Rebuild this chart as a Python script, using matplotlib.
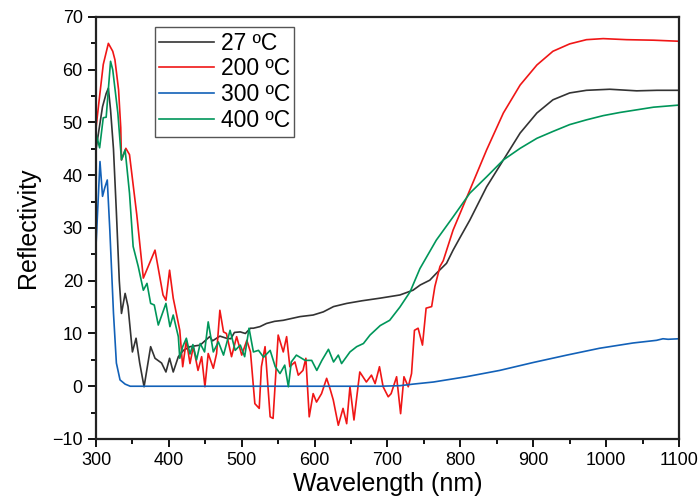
import matplotlib

matplotlib.use("Agg")

import matplotlib.pyplot as plt
from matplotlib.ticker import MultipleLocator

plt.rcParams["font.family"] = ["Liberation Sans", "DejaVu Sans"]

# 27 C
wl_27 = [300, 304, 309, 314, 317, 320, 324, 328, 332, 335, 340, 344, 350, 355, 360, 366,
         375, 381, 390, 396, 401, 406, 413, 420, 429, 443, 456, 460, 470, 479, 485, 490,
         498, 505, 512, 516, 525, 534, 545, 557, 580, 598, 612, 626, 644, 665, 690, 717,
         735, 745, 758, 767, 781, 790, 800, 813, 836, 859, 882, 905, 927, 950, 973, 1005,
         1042, 1070, 1100]
r_27 = [44.8, 48.5, 53.0, 55.5, 56.5, 52.4, 45.0, 33.0, 20.0, 13.8, 17.6, 15.1, 6.5, 9.1, 4.4, -0.1,
        7.5, 5.3, 4.4, 2.7, 5.3, 2.7, 5.6, 6.8, 7.5, 7.8, 9.4, 8.6, 9.5, 9.1, 9.0, 10.2,
        10.3, 10.0, 11.0, 11.0, 11.3, 11.9, 12.3, 12.5, 13.2, 13.5, 14.1, 15.1, 15.7, 16.2, 16.7, 17.3,
        18.2, 19.2, 20.1, 21.4, 23.3, 25.8, 28.3, 31.5, 37.8, 42.9, 48.0, 51.8, 54.3, 55.6, 56.1, 56.3,
        56.0, 56.1, 56.1]

# 200 C
wl_200 = [300, 305, 310, 317, 323, 326, 331, 334, 335, 341, 346, 356, 365, 381, 392, 396,
          401, 406, 415, 419, 424, 429, 433.5, 440, 445, 449.5, 454, 461, 465.5, 470, 475, 479,
          486, 493, 500, 507, 512, 518, 524, 527, 532, 539, 543, 550, 557, 561.6, 566, 573,
          577.6, 584, 588, 592.6, 598, 602.6, 609.5, 616.5, 621, 625.6, 632.5, 639, 644, 648.5, 654, 662,
          671, 678, 683, 689, 694, 701, 705, 712.5, 718, 722.6, 728.5, 733, 737, 742, 748, 753,
          760.6, 765, 772, 776.5, 790, 813, 836, 859, 882, 905, 927, 950, 973, 996, 1028, 1065, 1100]
r_200 = [48.9, 55.0, 61.0, 65.0, 63.5, 61.9, 56.2, 49.0, 42.9, 45.1, 43.9, 32.5, 20.5, 25.8, 17.3, 16.3,
         22.0, 16.7, 10.6, 3.7, 8.7, 4.3, 7.5, 3.0, 5.6, -0.1, 6.2, 3.4, 6.2, 14.4, 10.3, 10.0,
         5.6, 9.4, 5.9, 8.7, 6.5, -3.3, -4.2, 3.7, 7.5, -5.8, -6.1, 9.7, 6.5, 9.4, 3.7, 4.6,
         2.1, 3.0, 5.3, -5.8, -1.4, -3.0, -1.4, 1.5, -0.4, -2.6, -7.4, -4.2, -7.1, -0.1, -6.4, 2.7,
         0.8, 2.1, 0.5, 3.7, -0.1, -2.0, -1.4, 1.8, -5.2, 1.8, -0.1, 2.4, 10.6, 11.0, 7.8, 14.8,
         15.1, 18.9, 22.7, 23.8, 29.6, 37.2, 44.8, 51.8, 57.1, 60.9, 63.5, 64.9, 65.7, 65.9, 65.7, 65.6, 65.4]

# 300 C
wl_300 = [300, 305.5, 309, 312, 315.5, 319, 324, 328, 333, 340, 347, 400, 500, 600, 690, 717,
          735, 763, 808, 854, 900, 946, 991, 1037, 1069, 1078, 1085, 1100]
r_300 = [26.5, 42.6, 36.0, 37.6, 39.1, 29.6, 13.9, 4.4, 1.2, 0.4, 0.0, 0.0, 0.0, 0.0, 0.0, 0.1,
         0.4, 0.8, 1.8, 3.0, 4.5, 5.9, 7.2, 8.2, 8.7, 9.0, 8.9, 9.0]

# 400 C
wl_400 = [300, 305, 310, 314, 320, 323, 330, 335, 340, 346, 351, 358, 365, 370, 375, 380,
          385.5, 396, 401.5, 406, 413, 415, 419, 424, 429, 433, 438, 443, 449, 454, 461, 468,
          475, 484, 491, 498, 504, 510, 516, 523, 530, 539, 546, 552.5, 559, 564, 568, 575,
          587, 596, 603, 610, 619, 626, 632.5, 637, 648.5, 657.7, 667, 676, 690, 703, 717, 731,
          744.5, 767, 790, 813, 836, 859, 882, 905, 927, 950, 973, 996, 1019, 1042, 1065, 1100]
r_400 = [48.0, 45.2, 50.9, 51.0, 61.6, 60.0, 51.8, 42.9, 44.8, 36.6, 26.5, 22.7, 18.2, 19.5, 15.7, 15.4,
         11.6, 15.7, 11.3, 13.5, 9.4, 5.3, 7.5, 9.1, 6.1, 7.9, 5.0, 8.1, 6.5, 12.2, 6.5, 8.4,
         5.9, 10.6, 6.8, 7.8, 5.6, 11.0, 6.5, 6.8, 5.5, 6.8, 3.7, 2.4, 4.0, -0.1, 4.6, 5.9,
         4.9, 4.9, 3.0, 4.9, 7.0, 4.6, 5.9, 4.3, 6.5, 7.5, 8.1, 9.7, 11.5, 12.5, 15.0, 17.9,
         22.3, 27.7, 32.1, 36.6, 39.7, 42.9, 45.1, 47.0, 48.3, 49.6, 50.5, 51.3, 51.9, 52.4, 52.9, 53.3]

labels = ["27 \u00baC", "200 \u00baC", "300 \u00baC", "400 \u00baC"]
colors = ["#333333", "#f01616", "#1261b8", "#00965a"]

fig = plt.figure(figsize=(6.99, 5.04), dpi=100)
ax = fig.add_axes([0.1373, 0.129, 0.8341, 0.8373])

for wl, r, lab, col in zip([wl_27, wl_200, wl_300, wl_400], [r_27, r_200, r_300, r_400], labels, colors):
    ax.plot(wl, r, color=col, linewidth=1.2, label=lab)

ax.set_xlim(300, 1100)
ax.set_ylim(-10, 70)
ax.xaxis.set_major_locator(MultipleLocator(100))
ax.xaxis.set_minor_locator(MultipleLocator(50))
ax.yaxis.set_major_locator(MultipleLocator(10))
ax.yaxis.set_minor_locator(MultipleLocator(5))
ax.tick_params(which="both", direction="out", top=False, right=False, width=1.3, labelsize=13)
ax.tick_params(which="major", length=6)
ax.tick_params(which="minor", length=3.5)
for sp in ax.spines.values():
    sp.set_linewidth(1.6)
    sp.set_color("#222222")

ax.set_xlabel("Wavelength (nm)", fontsize=18, labelpad=2)
ax.set_ylabel("Reflectivity", fontsize=18, labelpad=9)

leg = ax.legend(loc="upper left", bbox_to_anchor=(0.101, 0.976), borderaxespad=0,
                fontsize=16.5, handlelength=2.4, handletextpad=0.27, labelspacing=0.12,
                borderpad=0.2, fancybox=False, framealpha=1)
leg.get_frame().set_edgecolor("#555555")
leg.get_frame().set_linewidth(1.0)

fig.savefig("out.png", dpi=100)
